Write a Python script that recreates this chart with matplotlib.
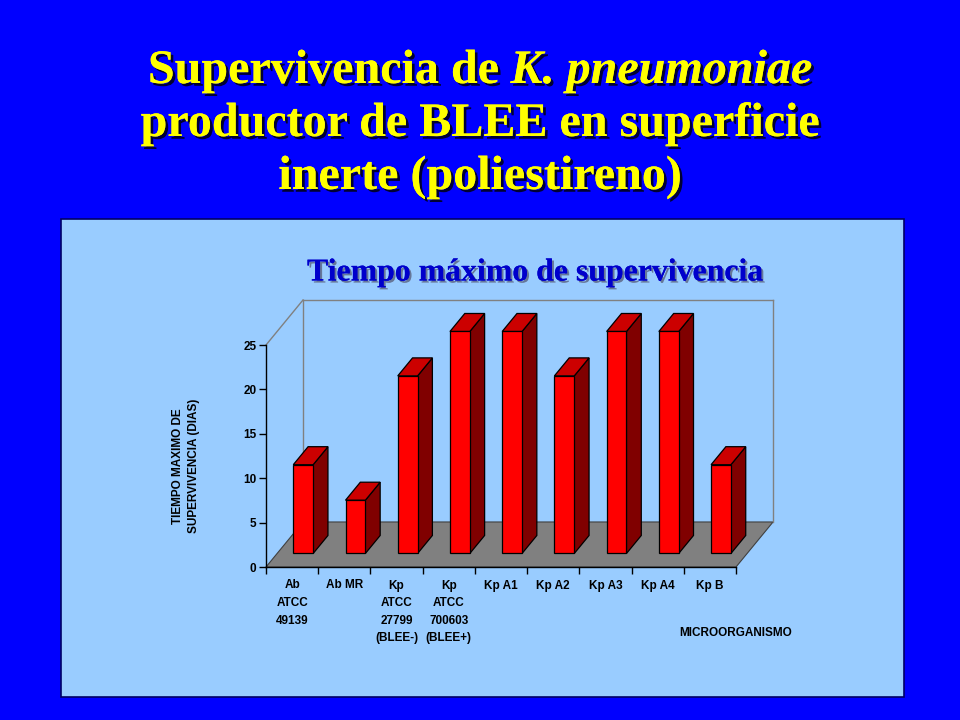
import matplotlib
matplotlib.use("Agg")
import matplotlib.pyplot as plt
import matplotlib.patheffects as pe
from matplotlib.patches import Polygon, Rectangle

# data
categories = ["Ab\nATCC\n49139", "Ab MR", "Kp\nATCC\n27799\n(BLEE-)", "Kp\nATCC\n700603\n(BLEE+)",
              "Kp A1", "Kp A2", "Kp A3", "Kp A4", "Kp B"]
dias = [10, 6, 20, 25, 25, 20, 25, 25, 10]
yticks = [0, 5, 10, 15, 20, 25]

W, H = 960, 720
fig = plt.figure(figsize=(9.6, 7.2), dpi=100, facecolor="#0000FF")

def fx(px):
    return px / W

def fy(py):
    return 1 - py / H

# light blue chart panel (behind the axes)
fig.patches.append(Rectangle((fx(61), fy(697)), fx(904 - 61), (697 - 219) / H,
                             transform=fig.transFigure, facecolor="#99CCFF",
                             edgecolor="#000066", linewidth=1.2, zorder=-1))

# main title (yellow with dark shadow)
serif = "Liberation Serif"
shadow = [pe.withSimplePatchShadow(offset=(2, -2), shadow_rgbFace="#000033", alpha=1.0), pe.Normal()]
tprops = dict(fontsize=34.6, family=serif, weight="bold", color="#FFFF00", va="baseline", path_effects=shadow)

r = fig.canvas.get_renderer()
p1 = fig.text(0, fy(83), "Supervivencia de ", **tprops)
p2 = fig.text(0, fy(83), "K. pneumoniae", style="italic", **tprops)
w1 = p1.get_window_extent(r).width
w2 = p2.get_window_extent(r).width
x0 = 480 - (w1 + w2) / 2
p1.set_x(fx(x0))
p2.set_x(fx(x0 + w1))
fig.text(0.5, fy(136), "productor de BLEE en superficie", ha="center", **tprops)
fig.text(0.5, fy(189), "inerte (poliestireno)", ha="center", **tprops)

# chart title
fig.text(fx(535), fy(273), "Tiempo máximo de supervivencia", ha="center", va="center",
         fontsize=22.9, family=serif, weight="bold", color="#0000CC",
         path_effects=[pe.withSimplePatchShadow(offset=(1.5, -1.5), shadow_rgbFace="#667799", alpha=1.0),
                       pe.Normal()])

# axes = front plane of the pseudo-3D chart
ax = fig.add_axes([fx(266), fy(567), fx(470), 222 / H])
ax.set_facecolor("none")
n = len(categories)
ax.set_xlim(0, n)
ax.set_ylim(0, 25)

DX, DY = 0.709, 5.07   # depth offset in data units
d0, d1 = 0.3, 0.7      # depth of bar front / back
bw = 0.38

# floor
ax.add_patch(Polygon([(0, 0), (n, 0), (n + DX, DY), (DX, DY)], closed=True,
                     facecolor="#808080", edgecolor="#404040", linewidth=0.8,
                     clip_on=False, zorder=1))
# walls
wall = dict(color="#808080", linewidth=1, clip_on=False, zorder=1)
ax.plot([DX, DX], [DY, 25 + DY], **wall)
ax.plot([0, DX], [25, 25 + DY], **wall)
ax.plot([DX, n + DX], [25 + DY, 25 + DY], **wall)
ax.plot([n + DX, n + DX], [DY, 25 + DY], **wall)

# bars
for i, v in enumerate(dias):
    xl = i + 0.5 + d0 * DX - bw / 2
    xr = xl + bw
    yb = d0 * DY
    yt = v + d0 * DY
    ox, oy = (d1 - d0) * DX, (d1 - d0) * DY
    front = [(xl, yb), (xr, yb), (xr, yt), (xl, yt)]
    top = [(xl, yt), (xr, yt), (xr + ox, yt + oy), (xl + ox, yt + oy)]
    side = [(xr, yb), (xr + ox, yb + oy), (xr + ox, yt + oy), (xr, yt)]
    for pts, c in ((side, "#800000"), (top, "#CC0000"), (front, "#FF0000")):
        ax.add_patch(Polygon(pts, closed=True, facecolor=c, edgecolor="black",
                             linewidth=0.9, clip_on=False, zorder=3))

for s in ("top", "right"):
    ax.spines[s].set_visible(False)
for s in ("left", "bottom"):
    ax.spines[s].set_color("black")
    ax.spines[s].set_linewidth(1)

lab = dict(fontsize=8.5, weight="bold", family="Liberation Sans")
ax.set_yticks(yticks)
ax.set_yticklabels([str(t) for t in yticks], **lab)
ax.tick_params(axis="y", length=5, width=1, pad=2)

ax.set_xticks([i + 0.5 for i in range(n)])
ax.set_xticklabels(categories, **lab)
ax.set_xticks(range(n + 1), minor=True)
ax.tick_params(axis="x", which="major", length=0, pad=9)
ax.tick_params(axis="x", which="minor", length=5, width=1)
for lbl in ax.get_xticklabels():
    lbl.set_linespacing(1.62)

fig.text(fx(186), fy(466), "TIEMPO MAXIMO DE\nSUPERVIVENCIA (DIAS)", rotation=90,
         ha="center", va="center", linespacing=1.55, **lab)
fig.text(fx(736), fy(633), "MICROORGANISMO", ha="center", va="center", **lab)

fig.savefig("out.png", dpi=100, facecolor=fig.get_facecolor())
